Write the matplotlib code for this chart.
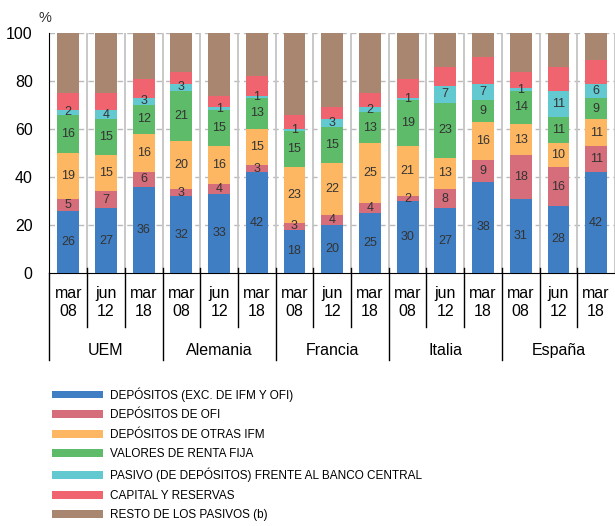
import matplotlib
matplotlib.use("Agg")
import matplotlib.pyplot as plt
import numpy as np

plt.rcParams['font.family'] = ['Liberation Sans', 'DejaVu Sans']

# datos (%)
grupos = ["UEM", "Alemania", "Francia", "Italia", "España"]
meses = ["mar\n08", "jun\n12", "mar\n18"]

depositos = [26, 27, 36, 32, 33, 42, 18, 20, 25, 30, 27, 38, 31, 28, 42]
dep_ofi = [5, 7, 6, 3, 4, 3, 3, 4, 4, 2, 8, 9, 18, 16, 11]
dep_ifm = [19, 15, 16, 20, 16, 15, 23, 22, 25, 21, 13, 16, 13, 10, 11]
renta_fija = [16, 15, 12, 21, 15, 13, 15, 15, 13, 19, 23, 9, 14, 11, 9]
banco_central = [2, 4, 3, 3, 1, 1, 1, 3, 2, 1, 7, 7, 1, 11, 6]
capital = [7, 7, 8, 5, 5, 8, 6, 5, 6, 8, 8, 11, 7, 10, 10]
resto = [25, 25, 19, 16, 26, 18, 34, 31, 25, 19, 14, 10, 16, 14, 11]

series = [depositos, dep_ofi, dep_ifm, renta_fija, banco_central, capital, resto]
nombres = ["DEPÓSITOS (EXC. DE IFM Y OFI)", "DEPÓSITOS DE OFI", "DEPÓSITOS DE OTRAS IFM",
           "VALORES DE RENTA FIJA", "PASIVO (DE DEPÓSITOS) FRENTE AL BANCO CENTRAL",
           "CAPITAL Y RESERVAS", "RESTO DE LOS PASIVOS (b)"]
colores = ["#3F7EC2", "#D66D7B", "#FDB763", "#5DBB69", "#62C9D1", "#F06470", "#A88670"]
etiquetar = [True, True, True, True, True, False, False]

fig = plt.figure(figsize=(6.15, 5.26), dpi=100)
ax = fig.add_axes([0.0803, 0.481, 0.9197, 0.456])

x = np.arange(len(depositos))
base = np.zeros(len(x))
barras = []
for vals, nom, col, lab in zip(series, nombres, colores, etiquetar):
    b = ax.bar(x, vals, 0.58, bottom=base, color=col, label=nom, zorder=3)
    barras.append(b)
    if lab:
        for xi, v, b0 in zip(x, vals, base):
            ax.text(xi, b0 + v / 2, str(v), ha="center", va="center",
                    fontsize=9, color="#333333", zorder=4)
    base += np.array(vals)

ax.set_xlim(-0.5, len(x) - 0.5)
ax.set_ylim(0, 100)
ax.set_yticks(range(0, 101, 20))
ax.tick_params(axis="y", length=0, labelsize=11.5, pad=12)
ax.tick_params(axis="x", length=0, labelbottom=False)
ax.set_xticks([])
for y in range(20, 101, 20):
    ax.axhline(y, color="#bbbbbb", lw=1, ls=(0, (4, 3)), zorder=1)
for s in ["top", "right"]:
    ax.spines[s].set_visible(False)
ax.spines["left"].set_color("black")
ax.spines["bottom"].set_color("black")
ax.text(-0.008, 1.035, "%", transform=ax.transAxes, ha="center",
        va="bottom", fontsize=10.5, color="#333333")

# separadores
for xs in np.arange(0.5, len(x), 1.0):
    ax.axvline(xs, color="#c4c4c4", lw=1.3, zorder=2)

tr = ax.get_xaxis_transform()
for i in range(len(x)):
    ax.text(i, -0.125, meses[i % 3], transform=tr, ha="center", va="center",
            fontsize=11.5, linespacing=1.25)
for xs in np.arange(0.5, len(x) - 0.5, 1.0):
    if int(xs + 0.5) % 3 == 0:
        ax.plot([xs, xs], [0.02, -0.3625], transform=tr, color="black", lw=1, clip_on=False)
    else:
        ax.plot([xs, xs], [0.02, -0.225], transform=tr, color="black", lw=1, clip_on=False)
ax.plot([-0.5, -0.5], [0, -0.3625], transform=tr, color="black", lw=1, clip_on=False)
for g, nom in enumerate(grupos):
    ax.text(3 * g + 1, -0.325, nom, transform=tr, ha="center", va="center", fontsize=11.5)

fig.legend(handles=barras, labels=nombres, loc="upper left",
           bbox_to_anchor=(0.0846, 0.264), frameon=False,
           prop={"family": ["Liberation Sans Narrow", "Liberation Sans"], "size": 8.5},
           handlelength=4.3, handleheight=0.65, labelspacing=0.64, handletextpad=0.6,
           borderaxespad=0, borderpad=0)

fig.savefig("out.png", dpi=100)
